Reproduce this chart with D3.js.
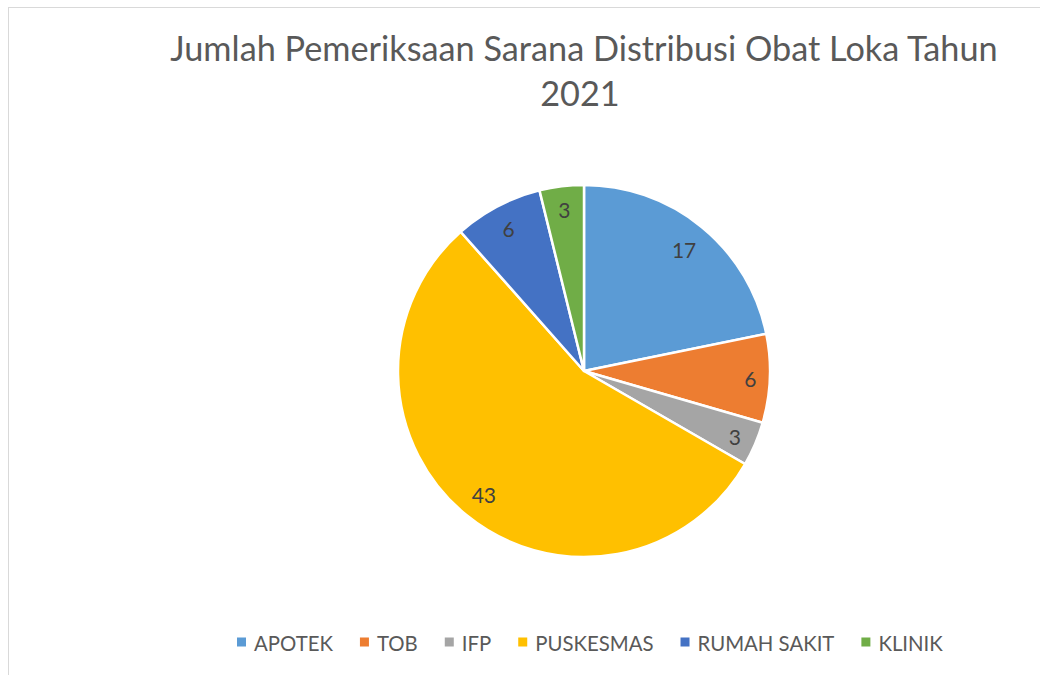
<!DOCTYPE html>
<html><head><meta charset="utf-8">
<script src="https://cdn.jsdelivr.net/npm/d3@7"></script>
<style>
html,body{margin:0;padding:0;background:#fff;}
svg{display:block;}
text{font-family:Lato,"Open Sans",sans-serif;}
</style></head>
<body>
<script>
const categories = ["APOTEK","TOB","IFP","PUSKESMAS","RUMAH SAKIT","KLINIK"];
const values = [17,6,3,43,6,3];
const colors = ["#5B9BD5","#ED7D31","#A5A5A5","#FFC000","#4472C4","#70AD47"];
const titleLines = ["Jumlah Pemeriksaan Sarana Distribusi Obat Loka Tahun","2021"];

const W = 1040, H = 675;
const svg = d3.select("body").append("svg").attr("width", W).attr("height", H);

// chart frame (only top/left edges visible in crop)
svg.append("rect").attr("x", 8.5).attr("y", 7.5).attr("width", W + 20).attr("height", H + 20)
  .attr("fill", "#fff").attr("stroke", "#D9D9D9").attr("stroke-width", 1);

// title
const cx = 584, cy = 371, R = 186;
const title = svg.append("g");
const t1 = title.append("text").attr("x", cx).attr("y", 61).attr("text-anchor", "middle")
  .attr("fill", "#595959").attr("font-size", 34).text(titleLines[0]);
let w1 = t1.node().getComputedTextLength();
const titleSize = 34 * 828 / w1;
t1.attr("font-size", titleSize);
title.append("text").attr("x", cx - 4).attr("y", 106).attr("text-anchor", "middle")
  .attr("fill", "#595959").attr("font-size", titleSize).text(titleLines[1]);

// pie
const data = categories.map((c, i) => ({cat: c, value: values[i], color: colors[i]}));
const pie = d3.pie().sort(null).value(d => d.value);
const arc = d3.arc().innerRadius(0).outerRadius(R);
const arcs = pie(data);
const g = svg.append("g").attr("transform", `translate(${cx},${cy})`);
g.selectAll("path").data(arcs).join("path")
  .attr("d", arc).attr("fill", d => d.data.color)
  .attr("stroke", "#fff").attr("stroke-width", 2.5).attr("stroke-linejoin", "round");

// labels (best fit inside)
const labels = g.selectAll("text.lbl").data(arcs).join("text").attr("class", "lbl")
  .attr("text-anchor", "middle").attr("dominant-baseline", "central")
  .attr("fill", "#404040").attr("font-size", 21).text(d => d.data.value);
labels.each(function(d) {
  const bb = this.getBBox();
  const a = (d.startAngle + d.endAngle) / 2;
  const s = Math.sin(a), c = Math.cos(a);
  const ext = Math.abs(s) * bb.width / 2 + Math.abs(c) * 9;
  const r = R - 13 - ext;
  d3.select(this).attr("x", r * s).attr("y", -r * c + 1);
});

// legend
const lg = svg.append("g");
const lgSize = 20;
const items = lg.selectAll("g").data(data).join("g");
items.append("rect").attr("width", 9).attr("height", 9).attr("y", -4.5).attr("fill", d => d.color);
items.append("text").attr("x", 17).attr("dominant-baseline", "central").attr("y", 1)
  .attr("fill", "#595959").attr("font-size", lgSize).text(d => d.cat);
// fit font so total width matches
let widths = [];
items.each(function() { widths.push(this.querySelector("text").getComputedTextLength()); });
const gap = 27;
let total = widths.reduce((a, b) => a + b + 17, 0) + gap * (data.length - 1);
const target = 943 - 237;
const scale = target / total;
// adjust font size approximately
const textTotal = widths.reduce((a, b) => a + b, 0);
const newSize = lgSize * (target - 17 * data.length - gap * (data.length - 1)) / textTotal;
items.select("text").attr("font-size", newSize);
widths = [];
items.each(function() { widths.push(this.querySelector("text").getComputedTextLength()); });
let x = 237;
items.each(function(d, i) {
  d3.select(this).attr("transform", `translate(${x},642)`);
  x += 17 + widths[i] + gap;
});
</script>
</body></html>
